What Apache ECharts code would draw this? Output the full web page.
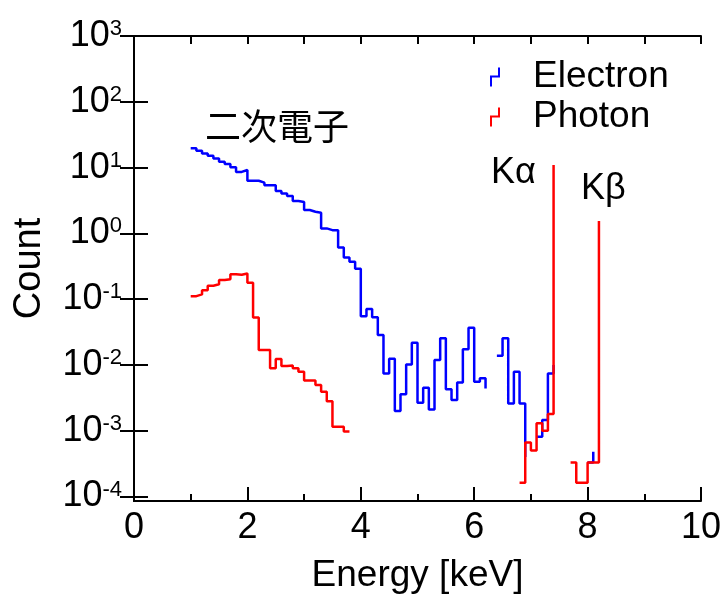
<!DOCTYPE html>
<html>
<head>
<meta charset="utf-8">
<title>Energy spectrum</title>
<script src="https://cdn.jsdelivr.net/npm/echarts@6/dist/echarts.min.js"></script>
<style>
  html, body { margin: 0; padding: 0; background: #fff; }
  #chart { width: 726px; height: 594px; }
</style>
</head>
<body>
<div id="chart"></div>
<script>
// bin start energies [keV]
const energy = [
  1.0, 1.1, 1.2, 1.3, 1.4, 1.5, 1.6, 1.7, 1.8, 1.9,
  2.0, 2.1, 2.2, 2.3, 2.4, 2.5, 2.6, 2.7, 2.8, 2.9,
  3.0, 3.1, 3.2, 3.3, 3.4, 3.5, 3.6, 3.7, 3.8, 3.9,
  4.0, 4.1, 4.2, 4.3, 4.4, 4.5, 4.6, 4.7, 4.8, 4.9,
  5.0, 5.1, 5.2, 5.3, 5.4, 5.5, 5.6, 5.7, 5.8, 5.9,
  6.0, 6.1, 6.2, 6.3, 6.4, 6.5, 6.6, 6.7, 6.8, 6.9,
  7.0, 7.1, 7.2, 7.3, 7.4, 7.5, 7.6, 7.7, 7.8, 7.9,
  8.0, 8.1, 8.2
];

// counts per bin (null = empty bin)
const electron = [
  19.6, 18.0, 16.4, 15.1, 13.8, 12.3, 11.3, 10.1, 8.6, 9.2,
  6.3, 6.3, 5.9, 5.4, 5.4, 4.4, 4.05, 3.7, 3.1, 3.0,
  2.26, 2.13, 2.06, 1.19, 1.12, 1.12, 0.61, 0.43, 0.37, 0.29,
  0.055, 0.071, 0.053, 0.0284, 0.0074, 0.0124, 0.0020, 0.0036, 0.0102, 0.0218,
  0.00267, 0.0045, 0.00211, 0.0119, 0.0254, 0.00426, 0.00293, 0.0054, 0.0173, 0.0368,
  0.00556, 0.00625, 0.0044, null, 0.0138, 0.0254, 0.0026, 0.0079, 0.0026, 0.0004,
  null, 0.00081, 0.00146, 0.0074, 0.01, null, null, null, null, null,
  0.00033, 0.00048, null
];

const photon = [
  0.111, 0.118, 0.137, 0.16, 0.168, 0.195, 0.20, 0.24, 0.235, 0.246,
  0.178, 0.0528, 0.0168, 0.0168, 0.0089, 0.0123, 0.0096, 0.0098, 0.0089, 0.0079,
  0.0058, 0.0058, 0.00495, 0.0039, 0.0028, 0.00115, 0.00115, 0.00097, 0.00097, null,
  null, null, null, null, null, null, null, null, null, null,
  null, null, null, null, null, null, null, null, null, null,
  null, null, null, null, null, null, null, null, 0.000162, 0.00066,
  0.0005, 0.0013, 0.001, 0.0018, 10.9, null, null, 0.00033, 0.000162, 0.000162,
  0.00033, 0.00033, 1.54
];

// decade ticks of the count axis
const countTicks = [1e-4, 1e-3, 1e-2, 1e-1, 1, 10, 100, 1000];

const seriesNames = ['Electron', 'Photon'];
const notes = ['二次電子', 'Kα', 'Kβ'];

const FONT = '"Liberation Sans", Arial, sans-serif';
const CJK = '"Noto Sans CJK JP", "Noto Sans CJK SC", sans-serif';

const chart = echarts.init(document.getElementById('chart'), null, { renderer: 'canvas' });

// 10^n の上付き表示
const powLabel = (v) => {
  const l = Math.log10(v);
  const p = Math.round(l);
  if (Math.abs(l - p) > 0.01) return '';
  return '{b|10}{s|' + p + '}';
};

// 空のビンは x も空にして、段差の水平線が次のビンへ伸びないようにする
const toPoints = (vals) => energy.map((e, i) => (vals[i] == null ? [null, null] : [e, vals[i]]));

const yCommon = {
  type: 'log',
  logBase: 10,
  min: 8.55e-5,
  max: 1000,
  axisLine: { show: true, lineStyle: { color: '#000', width: 2 } },
  axisTick: { show: true, inside: true, length: 14, customValues: countTicks, lineStyle: { color: '#000', width: 2 } },
  splitLine: { show: false }
};

chart.setOption({
  animation: false,
  backgroundColor: '#fff',
  grid: { left: 134, right: 25, top: 36, bottom: 93, containLabel: false, outerBoundsMode: 'none' },
  legend: {
    orient: 'vertical',
    left: 485,
    top: 53,
    itemWidth: 10,
    itemHeight: 19,
    itemGap: 2,
    icon: 'path://M0,19L0,8L8,8L8,0L10,0L10,10L2,10L2,19Z',
    textStyle: { fontSize: 37, fontFamily: FONT, color: '#000', padding: [0, 0, 0, 28], lineHeight: 38 },
    data: seriesNames
  },
  xAxis: [
    {
      type: 'value',
      position: 'bottom',
      min: 0,
      max: 10,
      interval: 2,
      name: 'Energy [keV]',
      nameLocation: 'middle',
      nameGap: 56,
      nameTextStyle: { fontSize: 37, fontFamily: FONT, color: '#000' },
      axisLine: { show: true, lineStyle: { color: '#000', width: 2 } },
      axisTick: { show: true, inside: true, length: 14, lineStyle: { color: '#000', width: 2 } },
      minorTick: { show: true, splitNumber: 2, length: 7, lineStyle: { color: '#000', width: 2 } },
      axisLabel: { fontSize: 36, fontFamily: FONT, color: '#000', margin: 9 },
      splitLine: { show: false }
    },
    {
      type: 'value',
      position: 'top',
      min: 0,
      max: 10,
      interval: 1,
      axisLine: { show: true, lineStyle: { color: '#000', width: 2 } },
      axisTick: { show: true, inside: true, length: 8, lineStyle: { color: '#000', width: 2 } },
      axisLabel: { show: false },
      splitLine: { show: false }
    }
  ],
  yAxis: [
    Object.assign({}, yCommon, {
      position: 'left',
      name: 'Count',
      nameLocation: 'middle',
      nameGap: 85,
      nameTextStyle: { fontSize: 38, fontFamily: FONT, color: '#000' },
      axisLabel: {
        margin: 12,
        customValues: countTicks,
        fontSize: 36,
        fontFamily: FONT,
        color: '#000',
        formatter: powLabel,
        rich: {
          b: { fontSize: 36, fontFamily: FONT, color: '#000', verticalAlign: 'top' },
          s: { fontSize: 22, fontFamily: FONT, color: '#000', verticalAlign: 'top' }
        }
      }
    }),
    Object.assign({}, yCommon, {
      position: 'right',
      axisLabel: { show: false }
    })
  ],
  graphic: [
    { type: 'text', left: 205, top: 108, style: { text: notes[0], font: '36px ' + CJK, fill: '#000' } },
    { type: 'text', left: 491, top: 155, style: { text: notes[1], font: '36px ' + FONT, fill: '#000' } },
    { type: 'text', left: 581, top: 171, style: { text: notes[2], font: '36px ' + FONT, fill: '#000' } }
  ],
  series: [
    {
      name: seriesNames[0],
      type: 'line',
      step: 'end',
      showSymbol: false,
      connectNulls: false,
      color: '#0000ff',
      lineStyle: { width: 2.5, color: '#0000ff' },
      data: toPoints(electron)
    },
    {
      name: seriesNames[1],
      type: 'line',
      step: 'end',
      showSymbol: false,
      connectNulls: false,
      color: '#ff0000',
      lineStyle: { width: 2.5, color: '#ff0000' },
      data: toPoints(photon)
    }
  ]
});
</script>
</body>
</html>
